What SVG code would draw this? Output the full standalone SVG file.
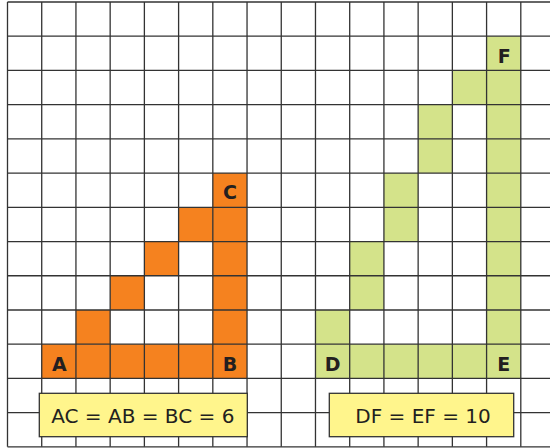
<svg xmlns="http://www.w3.org/2000/svg" width="550" height="448" viewBox="0 0 550 448">
<defs>
<style>
.o{fill:#F5821F}
.g{fill:#D4E38A}
.grid line{stroke:#333;stroke-width:1.3}
.lbl{font-family:"DejaVu Sans",Verdana,sans-serif;font-weight:bold;font-size:19px;fill:#231F20;text-anchor:middle}
.box{fill:#FFF58C;stroke:#333;stroke-width:1.3}
.eq{font-family:"DejaVu Sans",Verdana,sans-serif;font-size:20px;fill:#231F20;text-anchor:middle}
</style>
</defs>
<rect width="550" height="448" fill="#fff"/>
<g id="orange-triangle">
<rect class="o" x="212.82" y="173.1" width="34.22" height="205.32"/>
<rect class="o" x="41.72" y="344.2" width="205.32" height="34.22"/>
<rect class="o" x="178.6" y="207.32" width="34.22" height="34.22"/>
<rect class="o" x="144.38" y="241.54" width="34.22" height="34.22"/>
<rect class="o" x="110.16" y="275.76" width="34.22" height="34.22"/>
<rect class="o" x="75.94" y="309.98" width="34.22" height="34.22"/>
</g>
<g id="green-triangle">
<rect class="g" x="486.58" y="36.22" width="34.22" height="342.2"/>
<rect class="g" x="315.48" y="344.2" width="205.32" height="34.22"/>
<rect class="g" x="452.36" y="70.44" width="34.22" height="34.22"/>
<rect class="g" x="418.14" y="104.66" width="34.22" height="68.44"/>
<rect class="g" x="383.92" y="173.1" width="34.22" height="68.44"/>
<rect class="g" x="349.7" y="241.54" width="34.22" height="68.44"/>
<rect class="g" x="315.48" y="309.98" width="34.22" height="34.22"/>
</g>
<g id="grid" class="grid">
<line x1="7.5" y1="2" x2="7.5" y2="446.86"/>
<line x1="41.72" y1="2" x2="41.72" y2="446.86"/>
<line x1="75.94" y1="2" x2="75.94" y2="446.86"/>
<line x1="110.16" y1="2" x2="110.16" y2="446.86"/>
<line x1="144.38" y1="2" x2="144.38" y2="446.86"/>
<line x1="178.6" y1="2" x2="178.6" y2="446.86"/>
<line x1="212.82" y1="2" x2="212.82" y2="446.86"/>
<line x1="247.04" y1="2" x2="247.04" y2="446.86"/>
<line x1="281.26" y1="2" x2="281.26" y2="446.86"/>
<line x1="315.48" y1="2" x2="315.48" y2="446.86"/>
<line x1="349.7" y1="2" x2="349.7" y2="446.86"/>
<line x1="383.92" y1="2" x2="383.92" y2="446.86"/>
<line x1="418.14" y1="2" x2="418.14" y2="446.86"/>
<line x1="452.36" y1="2" x2="452.36" y2="446.86"/>
<line x1="486.58" y1="2" x2="486.58" y2="446.86"/>
<line x1="520.8" y1="2" x2="520.8" y2="446.86"/>
<line x1="7.5" y1="2" x2="550" y2="2"/>
<line x1="7.5" y1="36.22" x2="550" y2="36.22"/>
<line x1="7.5" y1="70.44" x2="550" y2="70.44"/>
<line x1="7.5" y1="104.66" x2="550" y2="104.66"/>
<line x1="7.5" y1="138.88" x2="550" y2="138.88"/>
<line x1="7.5" y1="173.1" x2="550" y2="173.1"/>
<line x1="7.5" y1="207.32" x2="550" y2="207.32"/>
<line x1="7.5" y1="241.54" x2="550" y2="241.54"/>
<line x1="7.5" y1="275.76" x2="550" y2="275.76"/>
<line x1="7.5" y1="309.98" x2="550" y2="309.98"/>
<line x1="7.5" y1="344.2" x2="550" y2="344.2"/>
<line x1="7.5" y1="378.42" x2="550" y2="378.42"/>
<line x1="7.5" y1="412.64" x2="550" y2="412.64"/>
<line x1="7.5" y1="446.86" x2="550" y2="446.86"/>
</g>
<g id="labels">
<text class="lbl" x="59.3" y="370.5">A</text>
<text class="lbl" x="229.9" y="370.5">B</text>
<text class="lbl" x="229.9" y="199.4">C</text>
<text class="lbl" x="332.6" y="370.5">D</text>
<text class="lbl" x="503.7" y="370.5">E</text>
<text class="lbl" x="504.2" y="62.5">F</text>
</g>
<g id="eq1">
<rect class="box" x="39.3" y="393.3" width="208" height="43.4"/>
<text class="eq" x="142.8" y="423">AC = AB = BC = 6</text>
</g>
<g id="eq2">
<rect class="box" x="329.3" y="393.3" width="184.4" height="43.4"/>
<text class="eq" x="423" y="423">DF = EF = 10</text>
</g>
</svg>
